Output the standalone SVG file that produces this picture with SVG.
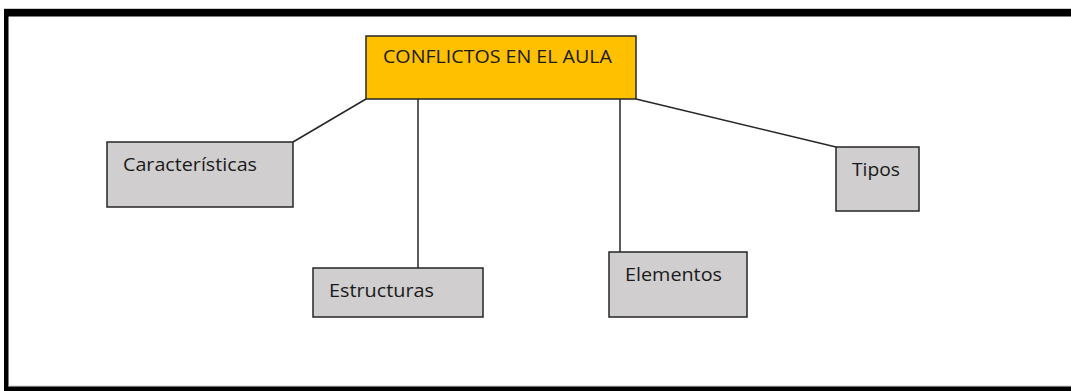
<svg xmlns="http://www.w3.org/2000/svg" width="1071" height="391" viewBox="0 0 1071 391">
<style>
.box{fill:#D0CECE;stroke:#262626;stroke-width:1.5}
.main{fill:#FFC000;stroke:#262626;stroke-width:1.5}
.lbl{font-family:"Open Sans","Liberation Sans",sans-serif;font-size:17.5px;fill:#1a1a1a}
.conn line{stroke:#262626;stroke-width:1.5}
</style>
<rect x="0" y="0" width="1071" height="391" fill="#ffffff"/>
<g id="frame">
<rect x="4" y="8" width="1067" height="1" fill="#cccccc"/>
<rect x="4" y="9" width="1067" height="7.5" fill="#000000"/>
<rect x="4" y="9" width="4.5" height="382" fill="#000000"/>
<rect x="8" y="385.5" width="1063" height="1" fill="#cccccc"/>
<rect x="8" y="386.5" width="1063" height="4.5" fill="#000000"/>
</g>
<g id="connectors" class="conn">
<line x1="366" y1="99" x2="293" y2="142"/>
<line x1="418" y1="99" x2="418" y2="268"/>
<line x1="620" y1="99" x2="620" y2="252"/>
<line x1="636" y1="99" x2="836" y2="147"/>
</g>
<g id="conflictos">
<rect class="main" x="366" y="36" width="270" height="63"/>
<text class="lbl" x="383" y="63" textLength="229" lengthAdjust="spacingAndGlyphs">CONFLICTOS EN EL AULA</text>
</g>
<g id="caracteristicas">
<rect class="box" x="107" y="142" width="186" height="65"/>
<text class="lbl" x="123" y="171" textLength="134" lengthAdjust="spacingAndGlyphs">Características</text>
</g>
<g id="estructuras">
<rect class="box" x="313" y="268" width="170" height="49"/>
<text class="lbl" x="329" y="297" textLength="105" lengthAdjust="spacingAndGlyphs">Estructuras</text>
</g>
<g id="elementos">
<rect class="box" x="609" y="252" width="138" height="65"/>
<text class="lbl" x="625" y="281" textLength="97" lengthAdjust="spacingAndGlyphs">Elementos</text>
</g>
<g id="tipos">
<rect class="box" x="836" y="147" width="83" height="64"/>
<text class="lbl" x="852" y="176" textLength="48" lengthAdjust="spacingAndGlyphs">Tipos</text>
</g>
</svg>
